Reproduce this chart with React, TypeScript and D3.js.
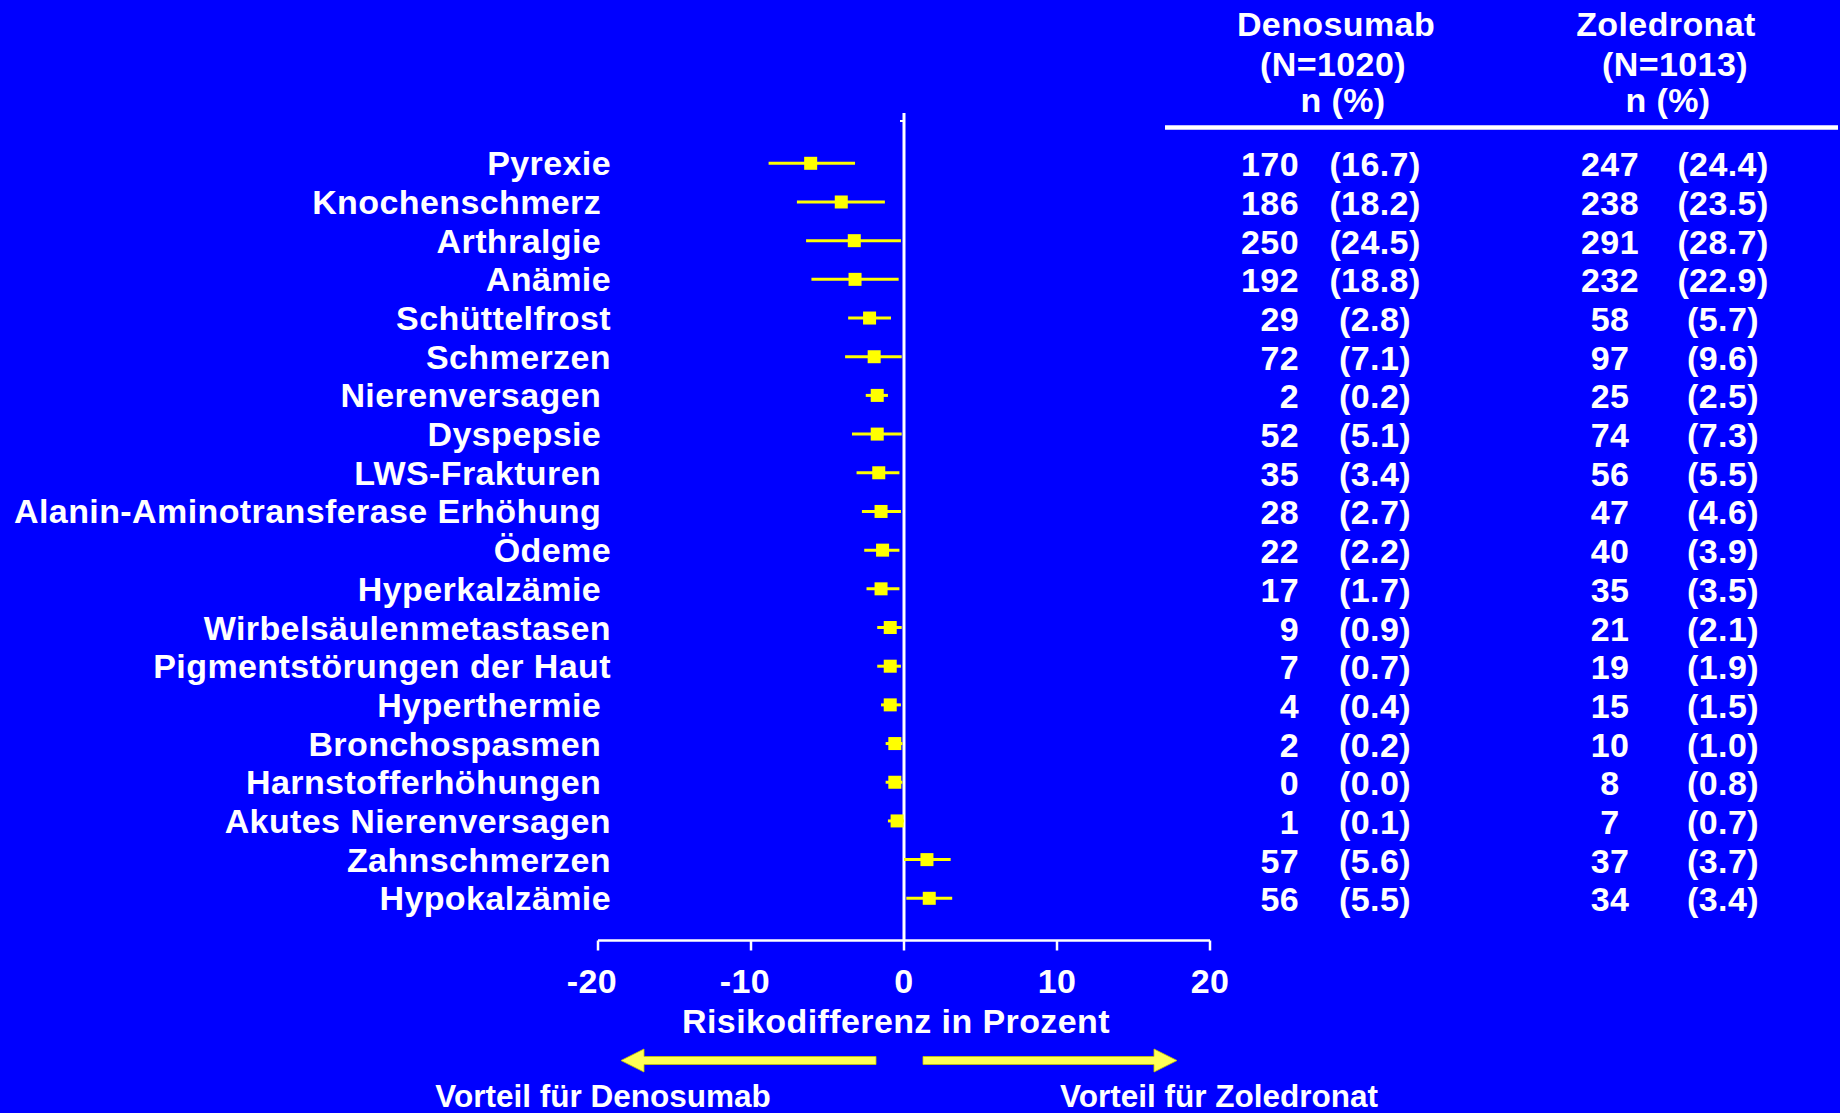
import * as d3 from 'd3';

// Unerwünschte Ereignisse (Reihenfolge wie in der Abbildung)
const events = [
  'Pyrexie', 'Knochenschmerz ', 'Arthralgie ', 'Anämie', 'Schüttelfrost', 'Schmerzen',
  'Nierenversagen ', 'Dyspepsie ', 'LWS-Frakturen ', 'Alanin-Aminotransferase Erhöhung ',
  'Ödeme', 'Hyperkalzämie ', 'Wirbelsäulenmetastasen', 'Pigmentstörungen der Haut',
  'Hyperthermie ', 'Bronchospasmen ', 'Harnstofferhöhungen ', 'Akutes Nierenversagen',
  'Zahnschmerzen', 'Hypokalzämie',
];

// Risikodifferenz (Punktschätzer) und Konfidenzintervall
const riskDiff = [-6.1, -4.1, -3.25, -3.2, -2.25, -1.95, -1.75, -1.75, -1.65, -1.5, -1.4, -1.5, -0.9, -0.9, -0.9, -0.6, -0.6, -0.45, 1.5, 1.65];
const ciLow = [-8.85, -7.0, -6.4, -6.05, -3.65, -3.85, -2.5, -3.4, -3.1, -2.75, -2.6, -2.45, -1.75, -1.75, -1.5, -1.2, -1.2, -1.05, 0.0, 0.15];
const ciHigh = [-3.2, -1.25, -0.2, -0.35, -0.85, -0.15, -1.05, -0.15, -0.3, -0.2, -0.3, -0.3, -0.15, -0.2, -0.2, -0.1, -0.1, 0.0, 3.05, 3.15];

// Tabelle rechts
const denoN = [170, 186, 250, 192, 29, 72, 2, 52, 35, 28, 22, 17, 9, 7, 4, 2, 0, 1, 57, 56];
const denoPct = [16.7, 18.2, 24.5, 18.8, 2.8, 7.1, 0.2, 5.1, 3.4, 2.7, 2.2, 1.7, 0.9, 0.7, 0.4, 0.2, 0.0, 0.1, 5.6, 5.5];
const zoleN = [247, 238, 291, 232, 58, 97, 25, 74, 56, 47, 40, 35, 21, 19, 15, 10, 8, 7, 37, 34];
const zolePct = [24.4, 23.5, 28.7, 22.9, 5.7, 9.6, 2.5, 7.3, 5.5, 4.6, 3.9, 3.5, 2.1, 1.9, 1.5, 1.0, 0.8, 0.7, 3.7, 3.4];

const xTicks = [-20, -10, 0, 10, 20];

const W = 1840;
const H = 1113;
const BG = '#0000ff';
const YEL = '#ffff00';
const ARROW = '#ffff55';
const FONT = '"Liberation Sans", Arial, Helvetica, sans-serif';
const FS = 34;

export default function App() {
  const x = d3.scaleLinear().domain([-20, 20]).range([598, 1210]);
  const y = d3.scalePoint<number>().domain(d3.range(events.length)).range([163.3, 898.3]);
  const axisY = 940.5;
  const markerSize = 13;

  const txt = {
    fill: '#fff',
    fontFamily: FONT,
    fontWeight: 700,
    fontSize: FS,
    letterSpacing: 0.4,
    whiteSpace: 'pre' as const,
  };
  const small = { ...txt, fontSize: 31.5, letterSpacing: 0 };

  const arrowY = 1060.5;
  const leftArrow = `M621,${arrowY} L644,${arrowY - 11.5} L644,${arrowY - 4} L876,${arrowY - 4} L876,${arrowY + 4} L644,${arrowY + 4} L644,${arrowY + 11.5} Z`;
  const rightArrow = `M1177,${arrowY} L1154,${arrowY - 11.5} L1154,${arrowY - 4} L923,${arrowY - 4} L923,${arrowY + 4} L1154,${arrowY + 4} L1154,${arrowY + 11.5} Z`;

  return (
    <div style={{ position: 'absolute', left: 0, top: 0 }}>
      <svg width={W} height={H} style={{ display: 'block' }}>
        <rect width={W} height={H} fill={BG} />

        {/* Kopfzeile der Tabelle */}
        <g style={txt} textAnchor="middle">
          <text x={1336} y={36}>Denosumab</text>
          <text x={1333} y={76}>(N=1020)</text>
          <text x={1343} y={112}>n (%)</text>
          <text x={1666} y={36}>Zoledronat</text>
          <text x={1675} y={76}>(N=1013)</text>
          <text x={1668} y={112}>n (%)</text>
        </g>
        <line x1={1165} x2={1838} y1={127.5} y2={127.5} stroke="#fff" strokeWidth={4.5} />

        {/* Nulllinie und x-Achse */}
        <line x1={x(0)} x2={x(0)} y1={113} y2={axisY} stroke="#fff" strokeWidth={3} />
        <line x1={x(0) - 4} x2={x(0)} y1={121} y2={121} stroke="#fff" strokeWidth={2} />
        <line x1={x(-20)} x2={x(20)} y1={axisY} y2={axisY} stroke="#fff" strokeWidth={2.5} />
        {xTicks.map(t => (
          <g key={t}>
            <line x1={x(t)} x2={x(t)} y1={axisY} y2={axisY + 10} stroke="#fff" strokeWidth={2.5} />
            <text x={x(t) - (t < 0 ? 6 : 0)} y={993} textAnchor="middle" style={txt}>{t}</text>
          </g>
        ))}
        <text x={896} y={1033} textAnchor="middle" style={txt}>Risikodifferenz in Prozent</text>

        {/* Pfeile */}
        <path d={leftArrow} fill={ARROW} stroke="#c8c800" strokeWidth={0.8} />
        <path d={rightArrow} fill={ARROW} stroke="#c8c800" strokeWidth={0.8} />
        <text x={603} y={1107} textAnchor="middle" style={small}>Vorteil für Denosumab</text>
        <text x={1219} y={1107} textAnchor="middle" style={small}>Vorteil für Zoledronat</text>

        {/* Zeilen */}
        {events.map((name, i) => {
          const cy = y(i) as number;
          return (
            <g key={name}>
              <text x={611} y={cy + 12} textAnchor="end" style={txt}>{name}</text>
              <line x1={x(ciLow[i])} x2={x(ciHigh[i])} y1={cy} y2={cy} stroke={YEL} strokeWidth={3} />
              <rect
                x={x(riskDiff[i]) - markerSize / 2}
                y={cy - markerSize / 2}
                width={markerSize}
                height={markerSize}
                fill={YEL}
              />
              <text x={1299} y={cy + 13} textAnchor="end" style={txt}>{denoN[i]}</text>
              <text x={1375} y={cy + 13} textAnchor="middle" style={txt}>({denoPct[i].toFixed(1)})</text>
              <text x={1610} y={cy + 13} textAnchor="middle" style={txt}>{zoleN[i]}</text>
              <text x={1723} y={cy + 13} textAnchor="middle" style={txt}>({zolePct[i].toFixed(1)})</text>
            </g>
          );
        })}
      </svg>
    </div>
  );
}
